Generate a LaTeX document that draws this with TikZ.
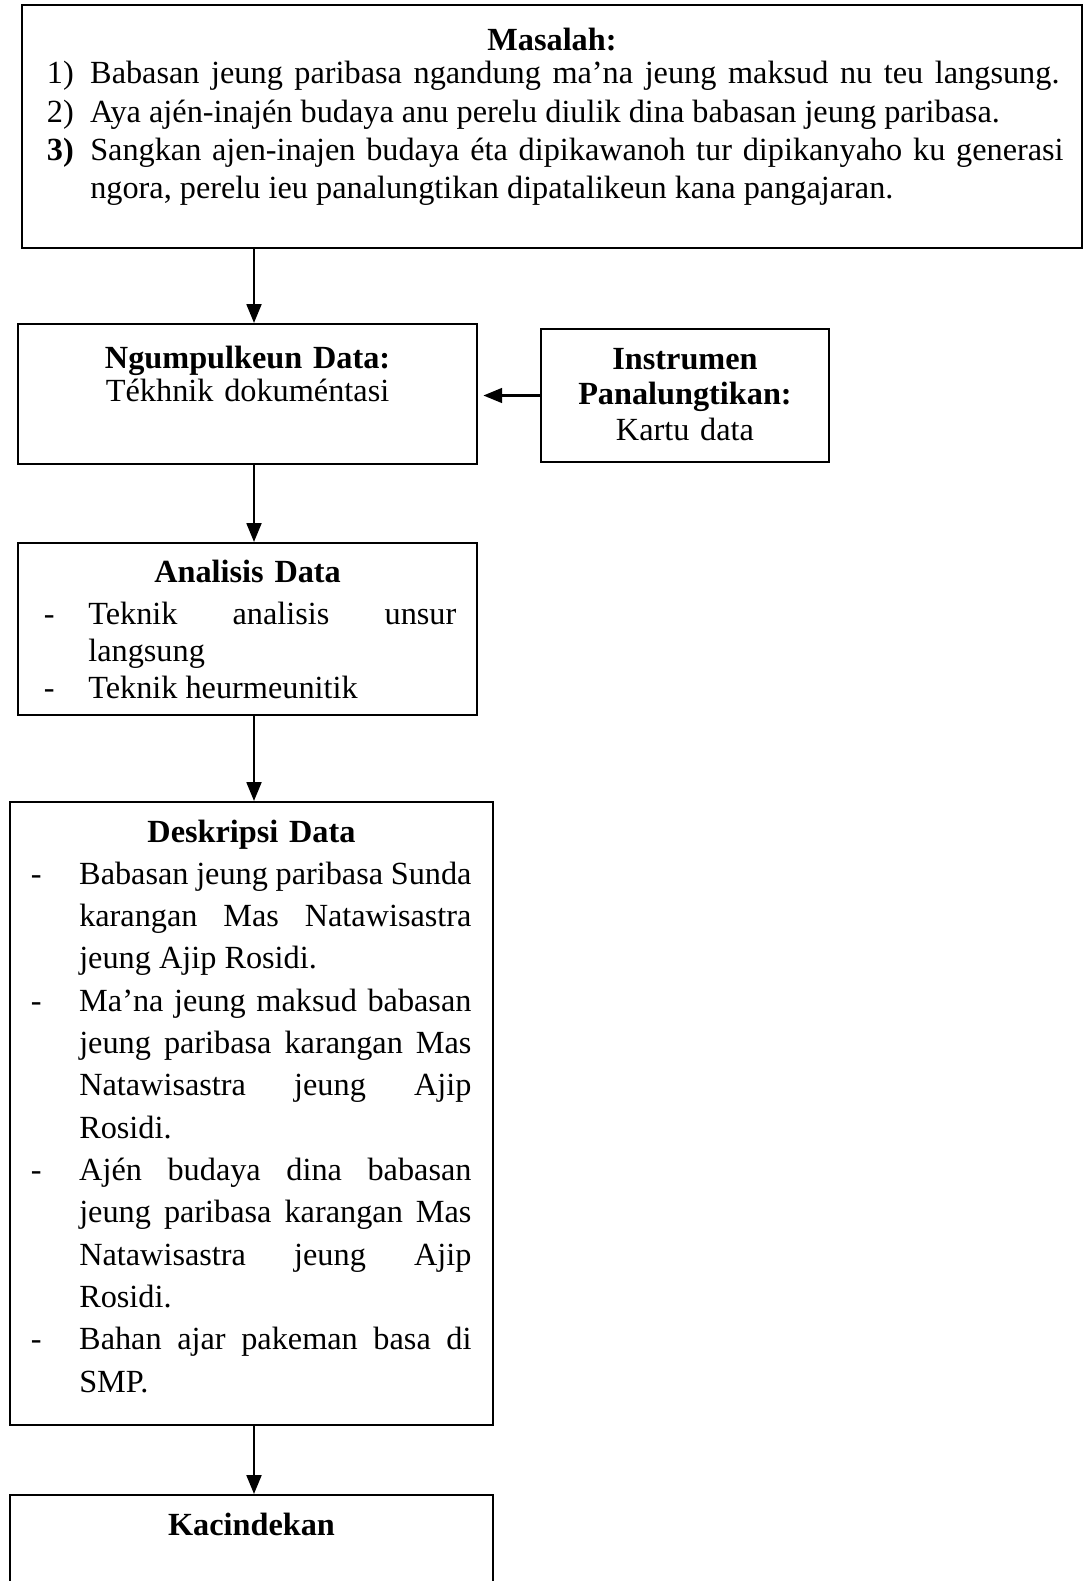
\documentclass[tikz,border=0pt]{standalone}
\usepackage{fontspec}
\setmainfont{Liberation Serif}
\usetikzlibrary{arrows.meta,fit}

\tikzset{
  kotak/.style={draw, line width=0.75pt, inner sep=0pt, fit={#1}},
  panah/.style={-{Triangle[length=7pt,width=5.5pt]}, line width=0.9pt},
  isi/.style={anchor=base west, inner sep=0pt, align=justify, text width=#1},
  tengah/.style={anchor=base, inner sep=0pt, align=center, text width=#1}
}
\newcommand{\poin}[3]{\hangindent=#1\hangafter=1\noindent\makebox[#1][l]{#2}#3\par}
\newcommand{\hurup}[1]{\fontsize{12}{#1}\selectfont\hyphenpenalty=10000\exhyphenpenalty=10000}

\begin{document}
\begin{tikzpicture}[x=0.3717pt,y=-0.3717pt]
\useasboundingbox (0,0) rectangle (1084,1581);
\coordinate (sumbu) at (254,0);

\node[kotak={(22,5) (1082,248)}] (masalah) {};
\node[kotak={(18,324) (477,464)}] (ngumpul) {};
\node[kotak={(541,329) (829,462)}] (instrumen) {};
\node[kotak={(18,543) (477,715)}] (analisis) {};
\node[kotak={(10,802) (493,1425)}] (deskripsi) {};
\node[kotak={(10,1495) (493,1640)}] (kacindekan) {};

\node[tengah=300pt, font=\hurup{14}\bfseries] (masalahjudul) at (552,50) {Masalah:};
\node[isi=377.9pt, font=\hurup{14.24}] (masalahisi) at (46.4,83.7) {%
  {\spaceskip=4.3pt plus 1pt\poin{16.1pt}{1)}{Babasan jeung paribasa ngandung ma’na jeung maksud nu teu langsung.}}%
  \poin{16.1pt}{2)}{Aya ajén-inajén budaya anu perelu diulik dina babasan jeung paribasa.}%
  \poin{16.1pt}{\textbf{3)}}{Sangkan ajen-inajen budaya éta dipikawanoh tur dipikanyaho ku generasi\linebreak ngora, perelu ieu panalungtikan dipatalikeun kana pangajaran.}};

\node[tengah=150pt, font=\hurup{12.6}] (ngumpulisi) at (247.6,368) {\textbf{Ngumpulkeun Data:}\\Tékhnik dokuméntasi};
\node[tengah=100pt, font=\hurup{13.3}] (instrumenisi) at (685,369) {\textbf{Instrumen}\\\textbf{Panalungtikan:}\\Kartu data};

\node[tengah=150pt, font=\hurup{14}\bfseries] (analisisjudul) at (247.6,582) {Analisis Data};
\node[isi=153.3pt, font=\hurup{13.9}] (analisisisi) at (43.4,624) {%
  \poin{16.5pt}{-}{Teknik analisis unsur\linebreak langsung}%
  \poin{16.5pt}{-}{Teknik heurmeunitik}};

\node[tengah=150pt, font=\hurup{14}\bfseries] (deskripsijudul) at (251.5,842) {Deskripsi Data};
\node[isi=163.8pt, font=\hurup{15.74}] (deskripsiisi) at (30.3,884) {%
  \poin{18pt}{-}{Babasan jeung paribasa Sunda\linebreak karangan Mas Natawisastra\linebreak jeung Ajip Rosidi.}%
  \poin{18pt}{-}{Ma’na jeung maksud babasan\linebreak jeung paribasa karangan Mas\linebreak Natawisastra jeung Ajip\linebreak Rosidi.}%
  \poin{18pt}{-}{Ajén budaya dina babasan\linebreak jeung paribasa karangan Mas\linebreak Natawisastra jeung Ajip\linebreak Rosidi.}%
  \poin{18pt}{-}{Bahan ajar pakeman basa di\linebreak SMP.}};

\node[tengah=150pt, font=\hurup{14}\bfseries] (kacindekanjudul) at (251.5,1535) {Kacindekan};

\draw[panah] (masalah.south -| sumbu) -- (ngumpul.north -| sumbu);
\draw[panah, shorten >=2pt] (instrumen.west) -- (instrumen.west -| ngumpul.east);
\draw[panah] (ngumpul.south -| sumbu) -- (analisis.north -| sumbu);
\draw[panah] (analisis.south -| sumbu) -- (deskripsi.north -| sumbu);
\draw[panah] (deskripsi.south -| sumbu) -- (kacindekan.north -| sumbu);
\end{tikzpicture}
\end{document}
